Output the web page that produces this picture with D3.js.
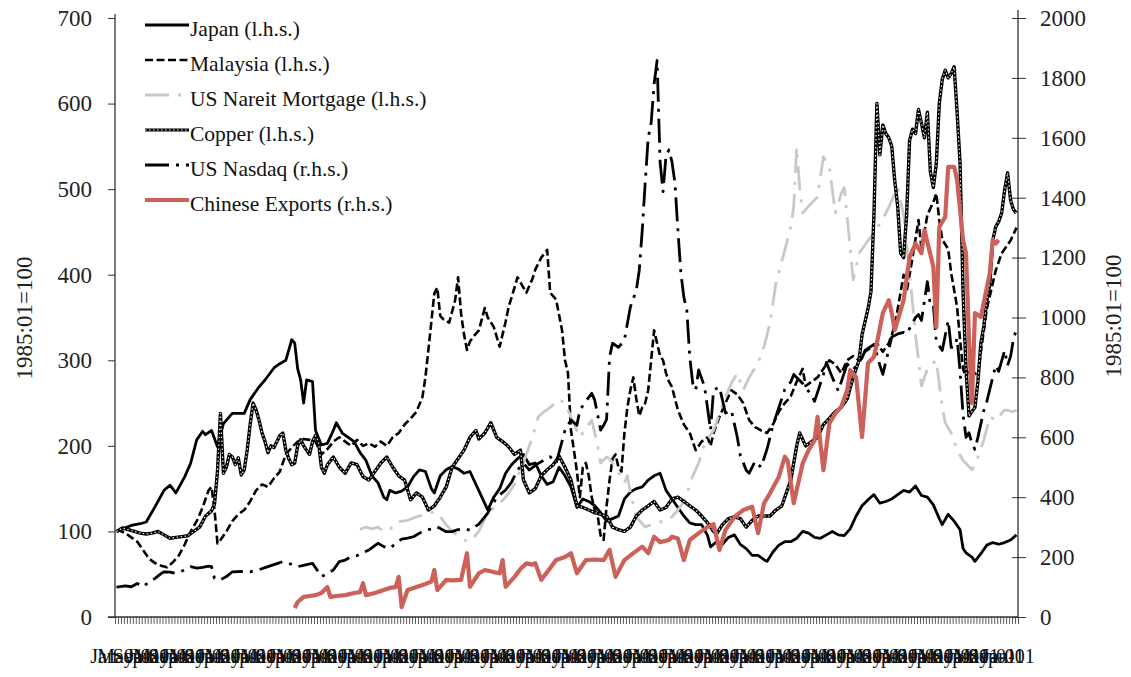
<!DOCTYPE html>
<html>
<head>
<meta charset="utf-8">
<script src="https://cdn.jsdelivr.net/npm/d3@7"></script>
<style>
  body { margin: 0; background: #fff; }
  svg { display: block; font-family: "Liberation Serif", "Times New Roman", serif; }
  svg text { font-family: "Liberation Serif", "Times New Roman", serif; }
</style>
</head>
<body>
<svg id="chart" width="1131" height="677"></svg>
<script>
// Monthly axis: Jan 1985 to Apr 2010
const startYear = 1985;
const monthCount = 304;
const monthNames = ["Jan","Feb","Mar","Apr","May","Jun","Jul","Aug","Sep","Oct","Nov","Dec"];
const labelEvery = 4;

const leftTicks = [0, 100, 200, 300, 400, 500, 600, 700];
const rightTicks = [0, 200, 400, 600, 800, 1000, 1200, 1400, 1600, 1800, 2000];
const axisTitle = "1985:01=100";

const seriesNames = ["Japan (l.h.s.)", "Malaysia (l.h.s.)", "US Nareit Mortgage (l.h.s.)",
                     "Copper (l.h.s.)", "US Nasdaq (r.h.s.)", "Chinese Exports (r.h.s.)"];

// Index levels, 1985:01 = 100
const japan = [
  ["1985-01",100],["1985-03",103],["1985-06",107],["1985-09",109],["1985-11",111],
  ["1986-02",129],["1986-05",148],["1986-07",154],["1986-09",145],["1986-12",164],
  ["1987-02",180],["1987-04",207],["1987-06",217],["1987-07",213],["1987-09",218],["1987-11",199],
  ["1988-01",226],["1988-04",238],["1988-08",238],["1988-10",254],
  ["1989-01",269],["1989-03",277],["1989-06",291],["1989-08",296],["1989-10",300],["1989-11",312],["1989-12",324],
  ["1990-01",320],["1990-02",290],["1990-03",277],["1990-04",250],["1990-05",277],["1990-07",275],
  ["1990-08",218],["1990-10",201],["1990-12",203],
  ["1991-02",218],["1991-03",227],["1991-05",215],["1991-07",210],["1991-09",205],["1991-11",192],
  ["1992-01",183],["1992-03",165],["1992-05",157],["1992-07",140],["1992-08",137],["1992-09",148],["1992-11",145],
  ["1993-01",147],["1993-03",152],["1993-05",164],["1993-07",172],["1993-09",170],["1993-11",150],["1993-12",145],
  ["1994-02",165],["1994-04",172],["1994-06",176],["1994-08",173],["1994-10",168],["1994-12",170],
  ["1995-02",155],["1995-04",140],["1995-06",125],["1995-08",140],["1995-10",150],["1995-12",168],
  ["1996-02",178],["1996-04",185],["1996-06",190],["1996-08",178],["1996-10",180],["1996-12",165],
  ["1997-02",155],["1997-04",158],["1997-06",175],["1997-08",165],["1997-10",152],["1997-12",128],
  ["1998-02",138],["1998-04",135],["1998-06",130],["1998-08",122],["1998-10",112],["1998-12",115],
  ["1999-02",118],["1999-04",138],["1999-06",146],["1999-08",150],["1999-10",152],["1999-12",160],
  ["2000-02",165],["2000-04",168],["2000-06",148],["2000-08",138],["2000-10",128],["2000-12",118],
  ["2001-02",110],["2001-04",108],["2001-06",108],["2001-08",95],["2001-09",82],["2001-11",88],
  ["2002-01",85],["2002-03",93],["2002-05",96],["2002-07",85],["2002-09",80],["2002-11",72],
  ["2003-01",72],["2003-03",67],["2003-04",65],["2003-06",76],["2003-08",84],["2003-10",88],["2003-12",88],
  ["2004-02",92],["2004-04",100],["2004-06",98],["2004-08",93],["2004-10",92],["2004-12",96],
  ["2005-02",100],["2005-04",96],["2005-06",95],["2005-08",103],["2005-10",118],["2005-12",130],
  ["2006-02",137],["2006-04",143],["2006-06",133],["2006-08",135],["2006-10",138],["2006-12",143],
  ["2007-02",148],["2007-04",146],["2007-06",153],["2007-08",142],["2007-10",140],["2007-12",131],
  ["2008-02",115],["2008-03",108],["2008-05",120],["2008-07",112],["2008-09",102],["2008-10",80],["2008-11",75],
  ["2009-01",70],["2009-02",65],["2009-04",74],["2009-06",84],["2009-08",87],["2009-10",85],["2009-12",87],
  ["2010-02",90],["2010-04",96]
];

const malaysia = [
  ["1985-01",100],["1985-02",101],["1985-04",98],["1985-06",93],["1985-08",88],["1985-10",78],["1985-12",68],
  ["1986-02",63],["1986-04",60],["1986-06",58],["1986-08",64],["1986-10",72],["1986-12",85],
  ["1987-02",100],["1987-04",112],["1987-06",128],["1987-08",148],["1987-09",152],["1987-10",125],["1987-11",86],["1987-12",90],
  ["1988-02",100],["1988-04",112],["1988-06",120],["1988-08",125],["1988-10",135],["1988-12",148],
  ["1989-02",155],["1989-04",152],["1989-06",162],["1989-08",170],["1989-10",190],["1989-12",198],
  ["1990-02",205],["1990-04",208],["1990-06",207],["1990-08",205],["1990-10",190],["1990-12",196],
  ["1991-02",205],["1991-04",210],["1991-06",205],["1991-08",200],["1991-10",207],["1991-12",200],
  ["1992-02",203],["1992-04",199],["1992-06",205],["1992-08",200],["1992-10",210],["1992-12",215],
  ["1993-02",225],["1993-04",232],["1993-06",240],["1993-08",257],["1993-09",280],["1993-10",312],["1993-11",345],["1993-12",378],
  ["1994-01",385],["1994-02",352],["1994-03",348],["1994-05",344],["1994-07",370],["1994-08",397],["1994-09",355],
  ["1994-10",330],["1994-11",312],["1994-12",322],
  ["1995-01",327],["1995-03",335],["1995-05",361],["1995-06",350],["1995-08",339],["1995-10",316],["1995-12",345],
  ["1996-01",362],["1996-03",385],["1996-04",397],["1996-06",385],["1996-07",379],["1996-09",395],["1996-10",406],["1996-12",420],
  ["1997-02",429],["1997-03",379],["1997-05",371],["1997-07",335],["1997-08",300],["1997-09",285],["1997-10",218],["1997-11",195],["1997-12",170],
  ["1998-01",140],["1998-02",175],["1998-03",180],["1998-04",165],["1998-05",140],["1998-06",125],["1998-07",118],["1998-08",95],["1998-09",90],
  ["1998-10",130],["1998-11",160],["1998-12",185],
  ["1999-01",190],["1999-02",175],["1999-03",170],["1999-04",215],["1999-05",245],["1999-06",265],["1999-07",280],
  ["1999-08",255],["1999-09",235],["1999-10",245],["1999-11",250],["1999-12",265],
  ["2000-01",300],["2000-02",335],["2000-03",320],["2000-04",305],["2000-05",300],["2000-06",285],["2000-07",275],
  ["2000-08",269],["2000-09",255],["2000-10",242],["2000-12",225],
  ["2001-02",215],["2001-03",205],["2001-04",195],["2001-06",205],["2001-08",210],["2001-09",200],["2001-10",215],["2001-12",234],
  ["2002-02",250],["2002-04",265],["2002-06",260],["2002-08",250],["2002-10",230],["2002-12",222],
  ["2003-02",218],["2003-04",215],["2003-06",225],["2003-08",240],["2003-10",250],["2003-12",258],
  ["2004-02",275],["2004-04",290],["2004-05",270],["2004-07",275],["2004-09",280],["2004-11",290],
  ["2005-01",300],["2005-03",295],["2005-05",285],["2005-07",300],["2005-09",305],["2005-11",300],
  ["2006-01",310],["2006-03",315],["2006-05",320],["2006-07",310],["2006-09",320],["2006-11",340],["2006-12",360],
  ["2007-02",400],["2007-03",380],["2007-05",420],["2007-07",464],["2007-08",430],["2007-10",470],["2007-12",485],
  ["2008-01",495],["2008-02",464],["2008-03",441],["2008-05",430],["2008-06",402],["2008-08",362],["2008-09",324],
  ["2008-10",290],["2008-11",280],["2008-12",290],
  ["2009-02",285],["2009-03",280],["2009-04",310],["2009-06",360],["2009-08",390],["2009-09",405],["2009-11",425],["2009-12",430],
  ["2010-02",440],["2010-04",455]
];

const nareit = [
  ["1991-11",102],["1991-12",104],["1992-01",105],["1992-03",103],["1992-05",105],["1992-07",100],["1992-09",102],["1992-11",110],
  ["1993-01",112],["1993-03",113],["1993-06",117],["1993-08",119],["1993-10",121],["1993-12",123],
  ["1994-02",117],["1994-04",108],["1994-06",100],["1994-08",95],["1994-11",88],
  ["1995-01",92],["1995-03",100],["1995-06",122],["1995-09",130],["1995-12",140],
  ["1996-03",155],["1996-05",172],["1996-07",190],["1996-09",210],["1996-11",234],
  ["1997-01",240],["1997-03",245],["1997-06",254],["1997-08",250],["1997-10",234],
  ["1998-01",210],["1998-03",220],["1998-05",230],["1998-07",200],["1998-08",180],["1998-10",187],["1998-11",185],
  ["1999-01",175],["1999-04",157],["1999-05",165],["1999-06",145],["1999-08",117],["1999-11",105],
  ["2000-01",108],["2000-03",110],["2000-06",113],["2000-08",117],["2000-10",125],
  ["2001-01",140],["2001-02",157],["2001-05",180],["2001-07",203],["2001-10",218],
  ["2002-02",257],["2002-04",273],["2002-06",285],["2002-08",265],["2002-10",280],
  ["2003-01",297],["2003-03",316],["2003-05",343],["2003-07",390],["2003-10",429],["2003-12",456],
  ["2004-01",480],["2004-02",549],["2004-03",502],["2004-04",472],["2004-06",480],["2004-09",491],["2004-11",538],
  ["2005-01",526],["2005-03",472],["2005-05",495],["2005-06",502],["2005-08",432],["2005-09",394],["2005-11",425],
  ["2006-01",435],["2006-04",449],["2006-07",465],["2006-09",479],["2006-12",502],
  ["2007-02",470],["2007-04",402],["2007-06",330],["2007-08",270],["2007-10",290],
  ["2008-01",300],["2008-03",245],["2008-04",227],["2008-06",215],["2008-08",195],["2008-10",183],
  ["2009-01",172],["2009-03",187],["2009-05",207],["2009-07",234],["2009-09",230],["2009-12",242],
  ["2010-03",240],["2010-04",242]
];

const copper = [
  ["1985-01",100],["1985-03",104],["1985-05",102],["1985-07",100],["1985-09",98],["1985-11",97],
  ["1986-01",98],["1986-03",100],["1986-05",96],["1986-07",92],["1986-09",93],["1986-11",94],
  ["1987-01",95],["1987-03",100],["1987-05",105],["1987-07",118],["1987-09",124],["1987-10",132],["1987-11",170],["1987-12",238],
  ["1988-01",168],["1988-02",175],["1988-03",190],["1988-04",187],["1988-05",178],["1988-06",186],["1988-07",166],
  ["1988-08",172],["1988-09",195],["1988-10",225],["1988-11",250],["1988-12",242],
  ["1989-01",230],["1989-02",215],["1989-03",205],["1989-04",192],["1989-05",200],["1989-06",198],["1989-07",205],
  ["1989-08",212],["1989-09",215],["1989-10",195],["1989-11",185],["1989-12",178],
  ["1990-01",180],["1990-02",200],["1990-03",207],["1990-04",200],["1990-05",195],["1990-06",190],["1990-07",205],
  ["1990-08",212],["1990-09",205],["1990-10",175],["1990-11",168],["1990-12",178],
  ["1991-02",187],["1991-04",175],["1991-06",168],["1991-08",180],["1991-10",178],["1991-12",164],
  ["1992-02",160],["1992-04",170],["1992-06",180],["1992-08",187],["1992-10",175],["1992-12",165],
  ["1993-02",160],["1993-04",137],["1993-06",145],["1993-08",140],["1993-10",125],["1993-12",130],
  ["1994-02",140],["1994-04",152],["1994-06",175],["1994-08",185],["1994-10",195],["1994-12",210],
  ["1995-02",218],["1995-03",208],["1995-05",215],["1995-07",227],["1995-09",210],["1995-11",205],
  ["1996-01",199],["1996-03",190],["1996-05",195],["1996-06",160],["1996-08",145],["1996-10",150],["1996-12",165],
  ["1997-02",172],["1997-04",178],["1997-06",188],["1997-08",175],["1997-10",160],["1997-12",130],
  ["1998-02",128],["1998-04",125],["1998-06",122],["1998-08",120],["1998-10",118],["1998-12",105],
  ["1999-02",102],["1999-04",100],["1999-06",105],["1999-08",118],["1999-10",125],["1999-12",130],
  ["2000-02",135],["2000-04",125],["2000-06",128],["2000-08",138],["2000-10",140],["2000-12",135],
  ["2001-02",130],["2001-04",125],["2001-06",118],["2001-08",110],["2001-10",100],["2001-11",97],
  ["2002-01",108],["2002-03",115],["2002-05",117],["2002-07",115],["2002-09",105],["2002-11",113],
  ["2003-01",118],["2003-03",118],["2003-05",118],["2003-07",125],["2003-09",130],["2003-11",150],["2003-12",160],
  ["2004-02",200],["2004-03",215],["2004-05",200],["2004-07",205],["2004-09",210],["2004-11",225],
  ["2005-01",232],["2005-03",240],["2005-05",245],["2005-07",255],["2005-09",280],["2005-11",300],["2005-12",330],
  ["2006-02",360],["2006-03",380],["2006-04",470],["2006-05",600],["2006-06",540],["2006-07",575],["2006-08",565],
  ["2006-09",560],["2006-10",550],["2006-11",510],["2006-12",480],
  ["2007-01",425],["2007-02",420],["2007-03",470],["2007-04",557],["2007-05",570],["2007-06",565],["2007-07",593],
  ["2007-08",577],["2007-09",560],["2007-10",590],["2007-11",520],["2007-12",502],
  ["2008-01",530],["2008-02",600],["2008-03",628],["2008-04",639],["2008-05",630],["2008-06",635],["2008-07",643],
  ["2008-08",590],["2008-09",530],["2008-10",380],["2008-11",290],["2008-12",235],
  ["2009-01",240],["2009-02",245],["2009-03",275],["2009-04",320],["2009-05",340],["2009-06",370],["2009-07",390],
  ["2009-08",440],["2009-09",456],["2009-10",462],["2009-11",472],["2009-12",499],
  ["2010-01",519],["2010-02",487],["2010-03",476],["2010-04",472]
];

const nasdaq = [
  ["1985-01",100],["1985-04",104],["1985-06",101],["1985-08",112],["1985-10",101],["1985-12",118],
  ["1986-02",129],["1986-04",145],["1986-05",151],["1986-07",150],["1986-09",146],["1986-12",157],
  ["1987-02",168],["1987-04",163],["1987-06",166],["1987-08",170],["1987-09",168],["1987-10",129],["1987-12",124],
  ["1988-02",135],["1988-04",151],["1988-07",152],["1988-10",151],
  ["1989-01",158],["1989-04",168],["1989-07",178],["1989-09",185],["1989-12",176],
  ["1990-02",168],["1990-05",175],["1990-07",179],["1990-09",150],["1990-10",135],["1990-12",145],
  ["1991-02",157],["1991-04",185],["1991-06",190],["1991-08",201],["1991-10",205],["1991-12",215],
  ["1992-02",224],["1992-05",246],["1992-07",235],["1992-09",229],["1992-11",245],
  ["1993-01",260],["1993-03",263],["1993-05",268],["1993-07",280],["1993-09",290],["1993-12",295],
  ["1994-01",301],["1994-04",285],["1994-06",285],["1994-08",292],["1994-10",295],["1994-12",290],
  ["1995-03",310],["1995-06",347],["1995-09",400],["1995-12",424],
  ["1996-02",450],["1996-04",491],["1996-06",513],["1996-08",491],["1996-11",513],
  ["1997-01",524],["1997-03",535],["1997-05",513],["1997-08",624],["1997-10",658],["1997-12",640],
  ["1998-01",691],["1998-03",720],["1998-05",747],["1998-06",724],["1998-08",624],["1998-09",640],["1998-10",660],
  ["1998-11",868],["1998-12",914],
  ["1999-02",900],["1999-04",925],["1999-06",1035],["1999-08",1091],["1999-09",1158],["1999-10",1292],["1999-11",1450],["1999-12",1600],
  ["2000-01",1650],["2000-02",1780],["2000-03",1858],["2000-04",1520],["2000-05",1420],["2000-06",1540],["2000-07",1560],
  ["2000-08",1520],["2000-09",1450],["2000-10",1292],["2000-11",1150],["2000-12",1068],
  ["2001-01",1025],["2001-02",868],["2001-03",780],["2001-04",758],["2001-05",825],["2001-07",768],["2001-09",624],
  ["2001-10",758],["2001-12",768],
  ["2002-02",681],["2002-04",690],["2002-06",600],["2002-07",540],["2002-09",490],["2002-10",480],["2002-12",520],
  ["2003-02",500],["2003-04",560],["2003-06",640],["2003-08",700],["2003-10",760],["2003-12",785],
  ["2004-01",810],["2004-04",780],["2004-07",740],["2004-08",720],["2004-11",810],["2004-12",850],
  ["2005-02",800],["2005-04",755],["2005-07",845],["2005-09",825],["2005-12",865],
  ["2006-01",890],["2006-04",910],["2006-06",840],["2006-07",810],["2006-10",935],["2006-12",945],
  ["2007-02",950],["2007-03",945],["2007-06",1000],["2007-07",1010],["2007-08",990],["2007-10",1120],["2007-11",1040],["2007-12",1040],
  ["2008-01",920],["2008-03",890],["2008-05",990],["2008-06",900],["2008-07",900],["2008-08",930],["2008-09",820],
  ["2008-10",675],["2008-11",600],["2008-12",615],
  ["2009-01",580],["2009-02",560],["2009-03",600],["2009-05",690],["2009-06",720],["2009-08",800],["2009-09",840],
  ["2009-10",820],["2009-12",890],
  ["2010-01",840],["2010-02",870],["2010-03",930],["2010-04",960]
];

const chinaExports = [
  ["1990-01",30],["1990-02",50],["1990-04",67],["1990-06",70],["1990-08",73],["1990-10",80],["1990-12",100],
  ["1991-01",67],["1991-03",70],["1991-06",73],["1991-09",80],["1991-11",83],["1991-12",113],
  ["1992-01",73],["1992-04",80],["1992-07",90],["1992-09",97],["1992-11",100],["1992-12",134],
  ["1993-01",33],["1993-03",90],["1993-06",100],["1993-09",110],["1993-11",118],["1993-12",157],
  ["1994-01",90],["1994-04",124],["1994-06",122],["1994-09",124],["1994-11",213],["1994-12",101],
  ["1995-03",146],["1995-05",157],["1995-08",150],["1995-10",146],["1995-11",190],["1995-12",101],
  ["1996-03",134],["1996-05",160],["1996-07",179],["1996-09",175],["1996-10",180],["1996-12",124],
  ["1997-02",150],["1997-05",190],["1997-08",200],["1997-10",213],["1997-12",146],
  ["1998-03",190],["1998-06",192],["1998-09",190],["1998-11",224],
  ["1999-01",134],["1999-04",190],["1999-07",213],["1999-10",235],["1999-12",213],
  ["2000-02",268],["2000-04",250],["2000-07",257],["2000-08",268],["2000-10",262],["2000-12",190],
  ["2001-02",257],["2001-05",280],["2001-08",301],["2001-10",310],["2001-12",224],
  ["2002-02",290],["2002-05",334],["2002-08",357],["2002-11",368],
  ["2003-01",280],["2003-03",380],["2003-05",413],["2003-08",468],["2003-10",535],["2003-11",520],
  ["2004-01",380],["2004-04",513],["2004-06",557],["2004-08",590],["2004-09",668],["2004-11",490],
  ["2005-01",646],["2005-03",680],["2005-05",702],["2005-07",757],["2005-08",824],["2005-10",800],["2005-12",601],
  ["2006-02",848],["2006-04",868],["2006-05",915],["2006-07",1015],["2006-09",1058],["2006-10",1015],["2006-11",958],
  ["2007-02",1058],["2007-04",1202],["2007-06",1247],["2007-08",1215],["2007-09",1292],["2007-12",1169],
  ["2008-01",968],["2008-02",1302],["2008-04",1336],["2008-05",1503],["2008-07",1503],["2008-08",1459],
  ["2008-10",1259],["2008-11",1215],["2008-12",925],
  ["2009-01",714],["2009-02",1015],["2009-04",1002],["2009-07",1148],["2009-08",1259],["2009-09",1247],["2009-10",1259]
];

// ---- layout ----
const serif = "'Liberation Serif', 'Times New Roman', serif";
const svg = d3.select("#chart");
const plot = { left: 115, right: 1018, top: 18, bottom: 617 };

const monthIndex = s => {
  const [y, m] = s.split("-").map(Number);
  return (y - startYear) * 12 + (m - 1);
};

const x = d3.scaleLinear().domain([-0.5, monthCount - 0.5]).range([plot.left, plot.right]);
const yL = d3.scaleLinear().domain([0, 700]).range([plot.bottom, plot.top]);
const yR = d3.scaleLinear().domain([0, 2000]).range([plot.bottom, plot.top]);

// ---- axes ----
const tickFont = "23px";

const leftAxis = svg.append("g")
  .attr("transform", `translate(${plot.left},0)`)
  .call(d3.axisLeft(yL).tickValues(leftTicks).tickFormat(d3.format("d"))
    .tickSizeInner(7).tickSizeOuter(0).tickPadding(16));
leftAxis.attr("font-family", serif);
leftAxis.selectAll("text").style("font-size", tickFont).attr("fill", "#222");
leftAxis.select(".domain").attr("d", `M0,${plot.top - 4}V${plot.bottom}`);

const rightAxis = svg.append("g")
  .attr("transform", `translate(${plot.right},0)`)
  .call(d3.axisRight(yR).tickValues(rightTicks).tickFormat(d3.format("d"))
    .tickSizeInner(8).tickSizeOuter(0).tickPadding(14));
rightAxis.attr("font-family", serif);
rightAxis.selectAll(".tick line").attr("x1", -6);
rightAxis.selectAll("text").style("font-size", tickFont).attr("fill", "#222");
rightAxis.select(".domain").attr("d", `M0,${plot.top - 8}V${plot.bottom}`);

// monthly tick marks along the bottom
const monthBoundaries = d3.range(-0.5, monthCount, 1);
const bottomTicks = svg.append("g")
  .attr("transform", `translate(0,${plot.bottom})`)
  .call(d3.axisBottom(x).tickValues(monthBoundaries).tickFormat("").tickSizeInner(7).tickSizeOuter(0));
bottomTicks.select(".domain").attr("d", `M${plot.left - 7},0H${plot.right}`);
bottomTicks.selectAll(".tick line").attr("stroke-width", 0.8);

// month labels (every fourth month)
const labelMonths = d3.range(0, monthCount, labelEvery);
const bottomLabels = svg.append("g")
  .attr("transform", `translate(0,${plot.bottom})`)
  .call(d3.axisBottom(x).tickValues(labelMonths)
    .tickFormat(i => monthNames[i % 12] + "-01").tickSize(0).tickPadding(32));
bottomLabels.attr("font-family", serif);
bottomLabels.select(".domain").remove();
bottomLabels.selectAll("text").style("font-size", "20px").attr("fill", "#111");

svg.selectAll(".domain").attr("stroke", "#333").attr("stroke-width", 1.3);
svg.selectAll(".tick line").attr("stroke", "#333");

// axis titles
[[24, 318], [1113, 316]].forEach(([tx, ty]) => {
  svg.append("text")
    .attr("transform", `translate(${tx},${ty}) rotate(-90)`)
    .attr("text-anchor", "middle").attr("dominant-baseline", "central")
    .attr("font-family", serif)
    .style("font-size", "23px").attr("fill", "#222")
    .text(axisTitle);
});

// ---- series ----
const styles = [
  { data: japan,        y: yL, color: "#000",    width: 2.8, dash: null },
  { data: malaysia,     y: yL, color: "#000",    width: 2.6, dash: "8,3.5" },
  { data: nareit,       y: yL, color: "#c8c8c8", width: 2.8, dash: "24,9,3,9" },
  { data: copper,       y: yL, color: "#000",    width: 3.4, dash: null, dots: true },
  { data: nasdaq,       y: yR, color: "#000",    width: 2.8, dash: "24,7,3,7" },
  { data: chinaExports, y: yR, color: "#cc6159", width: 4.2, dash: null }
];

styles.forEach(s => {
  const line = d3.line()
    .x(d => x(monthIndex(d[0])))
    .y(d => s.y(d[1]));
  svg.append("path")
    .datum(s.data)
    .attr("fill", "none")
    .attr("stroke", s.color)
    .attr("stroke-width", s.width)
    .attr("stroke-linejoin", "round")
    .attr("stroke-dasharray", s.dash)
    .attr("d", line);
  if (s.dots) {
    // white dotted core gives the speckled copper line
    svg.append("path")
      .datum(s.data)
      .attr("fill", "none")
      .attr("stroke", "#fff")
      .attr("stroke-width", 1.1)
      .attr("stroke-linejoin", "round")
      .attr("stroke-dasharray", "1.5,2.5")
      .attr("d", line);
  }
});

// ---- legend ----
const legend = svg.append("g").attr("transform", "translate(145,25)");
seriesNames.forEach((name, i) => {
  const s = styles[i];
  const g = legend.append("g").attr("transform", `translate(0,${i * 35})`);
  g.append("line")
    .attr("x1", 0).attr("x2", 44).attr("y1", 0).attr("y2", 0)
    .attr("stroke", s.color).attr("stroke-width", s.dots ? 3 : s.width)
    .attr("stroke-dasharray", s.dash);
  if (s.dots) {
    g.append("line")
      .attr("x1", 0).attr("x2", 44).attr("y1", 0).attr("y2", 0)
      .attr("stroke", "#fff").attr("stroke-width", 1)
      .attr("stroke-dasharray", "1.5,2.5");
  }
  g.append("text")
    .attr("x", 45).attr("y", 4)
    .attr("dominant-baseline", "central")
    .attr("font-family", serif)
    .style("font-size", "21.5px").attr("fill", "#111")
    .text(name);
});
</script>
</body>
</html>
